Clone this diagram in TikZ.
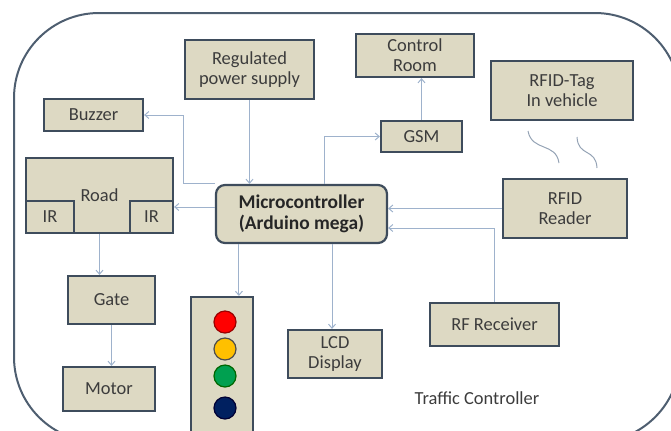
\documentclass[tikz,border=0pt]{standalone}
\usepackage{fontspec}
\setmainfont{Carlito}
\usetikzlibrary{positioning,arrows.meta,calc}
\definecolor{boxtan}{RGB}{221,217,195}
\definecolor{boxline}{RGB}{62,76,92}
\definecolor{linkblue}{RGB}{158,178,204}
\definecolor{txtgray}{RGB}{60,60,60}
\definecolor{frameline}{RGB}{78,94,112}
\tikzset{
  blk/.style={draw=boxline, fill=boxtan, line width=2.2bp, text=txtgray, font=\fontsize{18.5}{20}\selectfont, align=center, inner sep=0pt},
  mcu/.style={blk, rounded corners=9bp, text=black!85, font=\bfseries\fontsize{19.5}{21}\selectfont},
  lnk/.style={-{Straight Barb[length=4bp,width=7bp]}, linkblue, line width=1bp},
  lamp/.style={circle, minimum size=22bp, inner sep=0pt, line width=1.2bp},
  wave/.style={linkblue!70!gray, line width=1bp},
}
\begin{document}
\begin{tikzpicture}[x=1bp, y=-1bp]
\useasboundingbox (0,0) rectangle (671,430);
\clip (0,0) rectangle (671,430);
% outer frame
\draw[frameline, line width=2bp, rounded corners=85bp] (14,13) rectangle (680,442);

\node[blk, minimum width=129bp, minimum height=59bp] (psu) at (249.5,69.5) {Regulated\\power supply};
\node[blk, minimum width=99bp, minimum height=32bp] (buzzer) at (93.5,115) {Buzzer};
\node[blk, minimum width=147bp, minimum height=75bp] (road) at (99.5,195.5) {Road};
\node[blk, minimum width=48bp, minimum height=32bp, anchor=south west] (irl) at (road.south west) {IR};
\node[blk, minimum width=43bp, minimum height=32bp, anchor=south east] (irr) at (road.south east) {IR};
\node[mcu, minimum width=171bp, minimum height=58bp] (ctrl) at (301.5,214) {Microcontroller\\(Arduino mega)};
\node[blk, minimum width=118bp, minimum height=43bp] (room) at (415,55.5) {Control\\Room};
\node[blk, minimum width=81bp, minimum height=31bp] (gsm) at (421.5,136.5) {GSM};
\node[blk, minimum width=142bp, minimum height=59bp] (tag) at (562,90.5) {RFID-Tag\\In vehicle};
\node[blk, minimum width=124bp, minimum height=59bp] (reader) at (565,208.5) {RFID\\Reader};
\node[blk, minimum width=87bp, minimum height=48bp] (gate) at (111.5,300) {Gate};
\node[blk, minimum width=92bp, minimum height=44bp] (motor) at (109,389) {Motor};
\node[blk, minimum width=94bp, minimum height=48bp] (lcd) at (335,354) {LCD\\Display};
\node[blk, minimum width=129bp, minimum height=43bp] (rfrx) at (494.5,324.5) {RF Receiver};
\node[text=txtgray, font=\fontsize{18.5}{20}\selectfont] (title) at (477,398) {Traffic Controller};

% signal lamps
\node[blk, minimum width=62bp, minimum height=143bp] (light) at (222,368.5) {};
\node[lamp, draw=red!60!black, fill=red] (lred) at (225,322) {};
\node[lamp, draw=black!70, fill={rgb,255:red,255;green,192;blue,0}] (lyel) at (225,349) {};
\node[lamp, draw=green!40!black, fill={rgb,255:red,0;green,160;blue,80}] (lgrn) at (225,376) {};
\node[lamp, draw=blue!20!black, fill={rgb,255:red,0;green,32;blue,96}] (lblu) at (225,408) {};

% links
\draw[lnk] (psu.south) -- (psu.south |- ctrl.north);
\draw[lnk] (ctrl.north west) -- ++(-31,0) |- (buzzer.east);
\draw[lnk] ($(ctrl.north west)+(110,0)$) |- (gsm.west);
\draw[lnk] (gsm.north) -- (gsm.north |- room.south);
\draw[lnk] ([yshift=7bp]ctrl.west) -- ([yshift=7bp]ctrl.west -| road.east);
\draw[lnk] (road.south) -- (road.south |- gate.north);
\draw[lnk] (gate.south) -- (gate.south |- motor.north);
\coordinate (tl) at ($(ctrl.south west)+(24,0)$);
\draw[lnk] (tl) -- (tl |- light.north);
\coordinate (ld) at ($(lcd.north)+(-3,0)$);
\draw[lnk] (ctrl.south -| ld) -- (ld);
\draw[lnk] (reader.west) -- (reader.west -| ctrl.east);
\draw[lnk] (rfrx.north) |- ([yshift=-14bp]ctrl.east);

% radio waves tag -> reader
\coordinate (w1a) at (528,131);
\coordinate (w1b) at (559,163);
\coordinate (w2a) at (577,137);
\coordinate (w2b) at (597,168);
\draw[wave] (w1a) .. controls (532,152) and (556,142) .. (w1b);
\draw[wave] (w2a) .. controls (578,157) and (596,148) .. (w2b);
\end{tikzpicture}
\end{document}
